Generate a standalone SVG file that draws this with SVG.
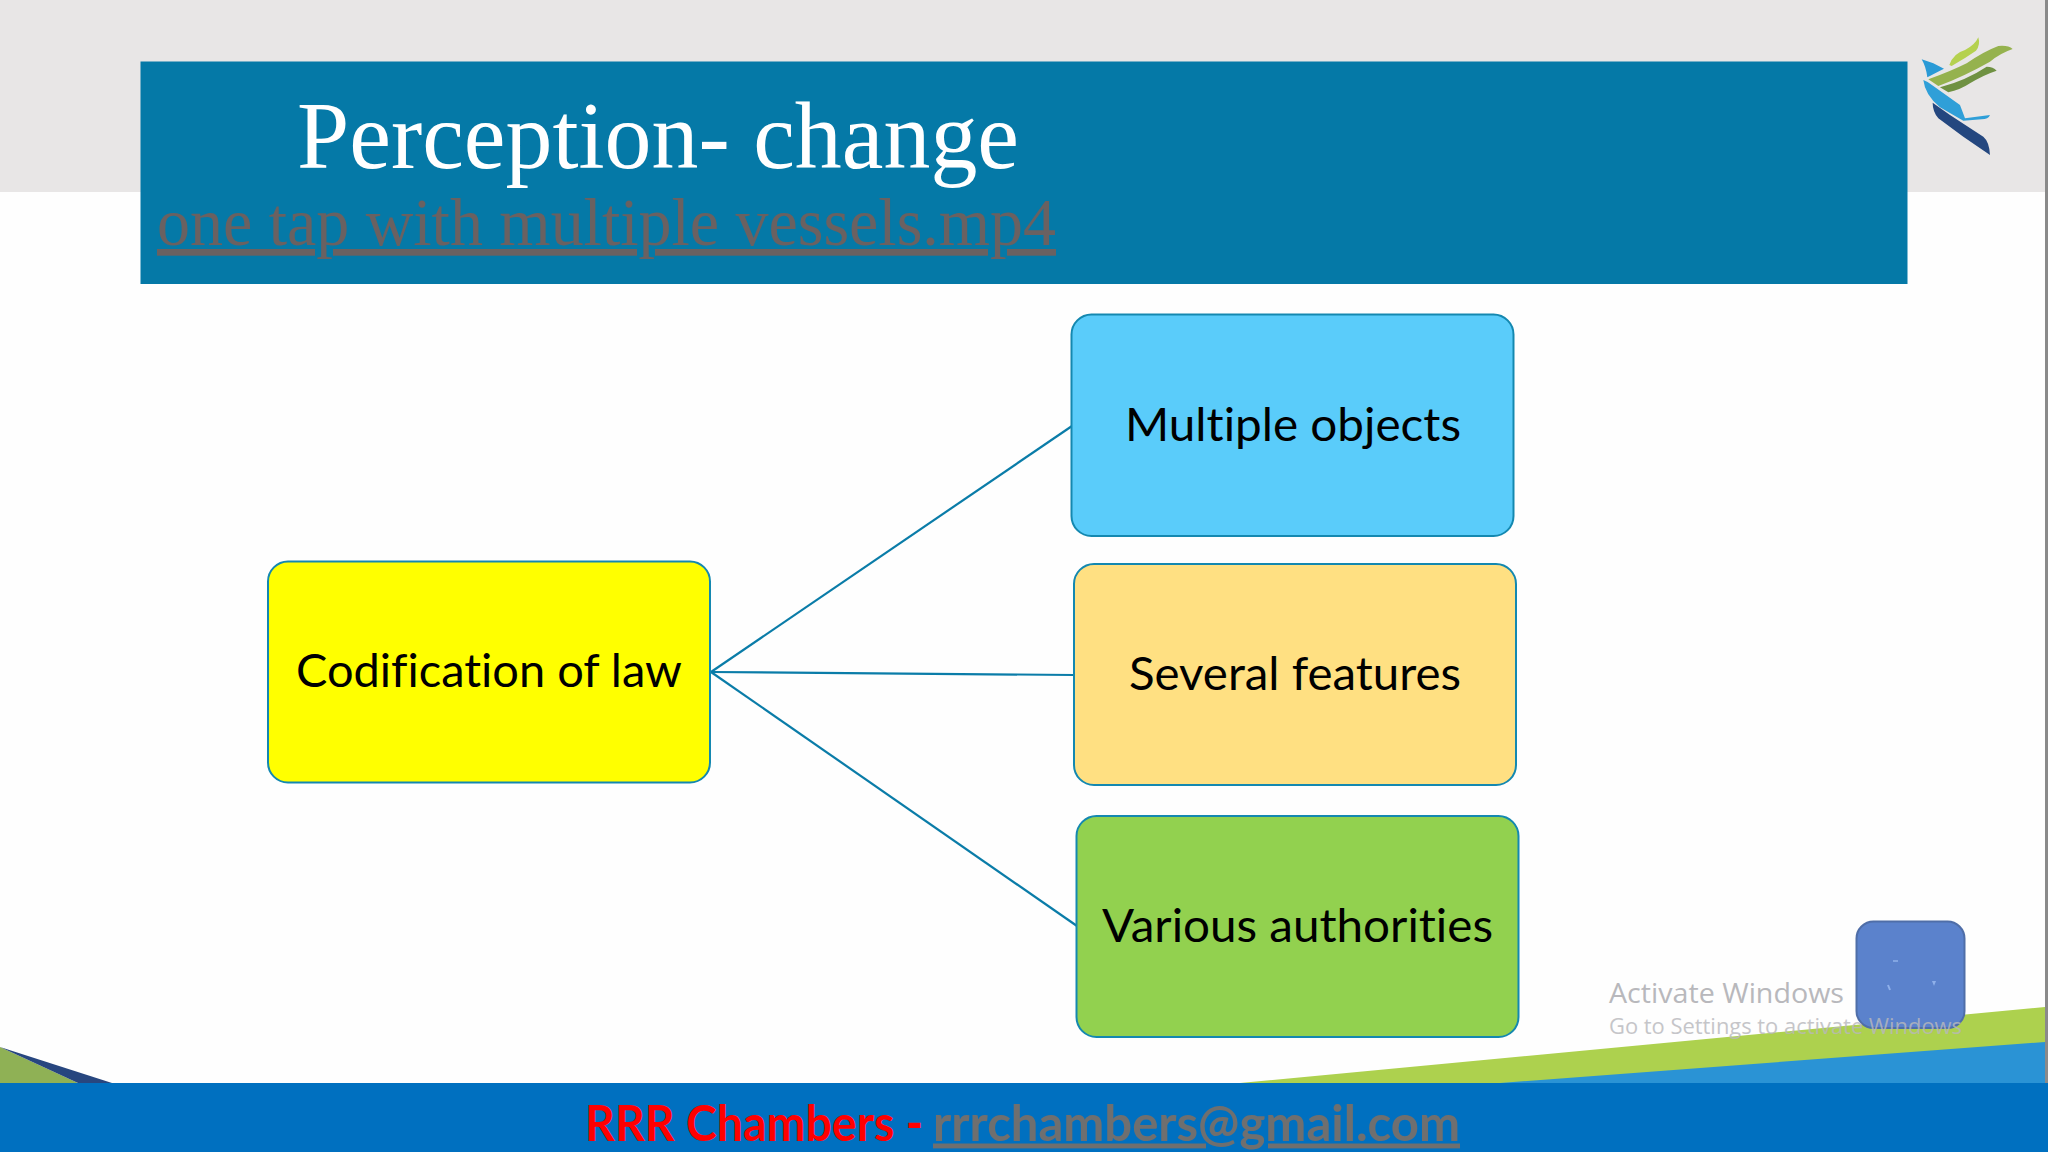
<svg xmlns="http://www.w3.org/2000/svg" width="2048" height="1152" viewBox="0 0 2048 1152">
<style>
.node{stroke:#1488b0;stroke-width:2}
.lbl{font-family:Lato,"Open Sans",sans-serif;font-size:46px;fill:#000;text-anchor:middle;font-variant-ligatures:none}
.conn{stroke:#0a7ca8;stroke-width:2.2;fill:none}
.ser{font-family:"Liberation Serif",serif}
.foot{font-family:Lato,"Open Sans",sans-serif;font-size:49px;font-weight:700;font-variant-ligatures:none}
.win{font-family:"Open Sans","Noto Sans",sans-serif;fill:#b8b8bc}
</style>
<rect width="2048" height="1152" fill="#fefefe"/>
<rect width="2048" height="192" fill="#e8e6e6"/>
<rect x="2045" y="0" width="3" height="1083" fill="#8a8a8a"/>
<g id="logo" transform="translate(1850 0) scale(.3333)">
<path d="M298 195Q310 160 345 150Q375 135 385 112Q392 135 378 152Q345 175 305 198Z" fill="#b5d14f"/>
<path d="M235 238Q300 215 350 190Q400 155 445 138Q475 135 488 147Q450 160 420 185Q340 230 265 258Z" fill="#95b24e"/>
<path d="M270 262Q350 240 410 200Q430 200 440 212Q400 225 360 250Q330 270 295 277Z" fill="#6f9142"/>
<path d="M215 178L250 190L282 206Q250 222 232 232Q228 200 215 178Z" fill="#2a9ad6"/>
<path d="M220 240Q235 245 250 258L330 315L345 355L420 345Q415 358 395 358L340 362L270 322Q225 285 220 240Z" fill="#2f9fd8"/>
<path d="M248 308L300 345L400 410Q418 425 420 465L340 410L265 355Q248 335 248 308Z" fill="#24477f"/>
</g>
<path d="M1240 1083L2045 1007V1083Z" fill="#add14e"/>
<path d="M1500 1083L2045 1042V1083Z" fill="#2a93d5"/>
<path d="M0 1047L78 1083H0Z" fill="#8fb155"/>
<path d="M0 1047L112 1083H78Z" fill="#27467f"/>
<rect y="1083" width="2048" height="69" fill="#0070c0"/>
<g id="banner">
<rect x="140.500" y="61.500" width="1767" height="222.500" fill="#0579a7"/>
<text class="ser" x="297" y="167.500" font-size="96" fill="#fff" textLength="722" lengthAdjust="spacingAndGlyphs">Perception- change</text>
<text class="ser" x="157" y="245" font-size="67" fill="#6a6161" text-decoration="underline" textLength="899" lengthAdjust="spacingAndGlyphs">one tap with multiple vessels.mp4</text>
</g>
<g id="connectors">
<line class="conn" x1="711" y1="672" x2="1072" y2="426"/>
<line class="conn" x1="711" y1="672" x2="1074" y2="675"/>
<line class="conn" x1="711" y1="672" x2="1077" y2="926"/>
</g>
<g id="node-codification">
<rect class="node" x="268" y="561.500" width="442" height="221" rx="20" fill="#ffff00"/>
<text class="lbl" x="489" y="687" textLength="386" lengthAdjust="spacingAndGlyphs">Codification of law</text>
</g>
<g id="node-multiple">
<rect class="node" x="1071.500" y="314.500" width="442" height="221.500" rx="20" fill="#5accfa"/>
<text class="lbl" x="1293" y="441" textLength="336" lengthAdjust="spacingAndGlyphs">Multiple objects</text>
</g>
<g id="node-several">
<rect class="node" x="1074" y="564" width="442" height="221" rx="20" fill="#ffe082"/>
<text class="lbl" x="1295" y="690" textLength="332" lengthAdjust="spacingAndGlyphs">Several features</text>
</g>
<g id="node-various">
<rect class="node" x="1076.500" y="816" width="442" height="221" rx="20" fill="#92d14f"/>
<text class="lbl" x="1297.500" y="941.500" textLength="391" lengthAdjust="spacingAndGlyphs">Various authorities</text>
</g>
<rect x="1856.500" y="921.500" width="108" height="106.500" rx="17" fill="#5b82cc" stroke="#4f6ea8" stroke-width="2"/>
<path d="M1893 961H1898" stroke="#8fb0ea" stroke-width="1.500"/>
<path d="M1932 981L1936 981L1934 986Z" fill="#8fb0ea"/>
<path d="M1888 985L1890 990" stroke="#8fb0ea" stroke-width="2"/>
<text class="win" x="1609" y="1003" font-size="28" textLength="235" lengthAdjust="spacingAndGlyphs">Activate Windows</text>
<text class="win" x="1609" y="1034" font-size="21.500" opacity=".8" textLength="353" lengthAdjust="spacingAndGlyphs">Go to Settings to activate Windows</text>
<g id="footer-text">
<text class="foot" x="585" y="1140.500" fill="#ff0000" textLength="338" lengthAdjust="spacingAndGlyphs">RRR Chambers -</text>
<text class="foot" x="933" y="1140.500" fill="#6f6f6f" text-decoration="underline" textLength="527" lengthAdjust="spacingAndGlyphs">rrrchambers@gmail.com</text>
</g>
</svg>
